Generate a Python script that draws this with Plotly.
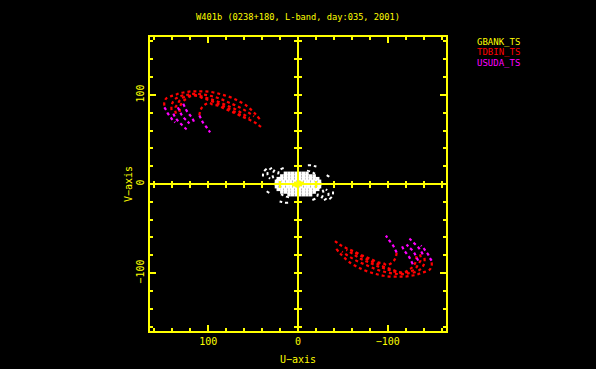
import plotly.graph_objects as go

TITLE = "W401b (0238+180, L-band, day:035, 2001)"
STATIONS = ["GBANK_TS", "TDBIN_TS", "USUDA_TS"]
COLORS = ["#ffff00", "#ff0000", "#ff00ff"]
TICKS = [100, 0, -100]

# TDBIN_TS tracks (u, v) in the upper-left half; conjugates give the lower-right half
tdbin_1 = [(149, 88), (149, 92), (147, 96), (143, 98), (137, 100), (132, 102), (126, 103), (119, 104),
           (113, 104), (104, 104), (95, 103), (87, 101), (80, 99), (72, 96), (66, 93), (59, 89), (53, 84),
           (47, 78), (42, 72)]
tdbin_2 = [(141, 83), (141, 88), (139, 93), (136, 96), (130, 99), (124, 100), (119, 101), (111, 101),
           (103, 100), (94, 98), (85, 95), (76, 91), (67, 87), (58, 82), (49, 76)]
tdbin_3 = [(136, 79), (137, 85), (134, 90), (131, 95), (126, 98), (121, 99), (115, 100), (106, 98),
           (97, 95), (88, 92), (79, 88), (70, 84), (62, 79), (54, 74)]
tdbin_4 = [(132, 81), (131, 88), (128, 93), (124, 96), (119, 99), (113, 99), (105, 96), (96, 93),
           (87, 89), (78, 85), (69, 80), (60, 75)]
tdbin_5 = [(110, 77), (109, 82), (107, 86), (104, 89), (99, 91), (95, 89), (89, 88), (83, 85), (76, 82),
           (69, 79), (63, 76), (56, 73), (50, 70), (45, 67), (40, 63)]

# USUDA_TS tracks
usuda_1 = [(149, 86), (147, 83), (145, 79), (142, 75), (140, 72), (137, 69)]
usuda_2 = [(139, 79), (137, 75), (134, 71), (131, 68), (128, 65), (125, 62), (122, 60)]
usuda_3 = [(134, 86), (132, 82), (130, 78), (128, 75), (125, 72), (121, 68)]
usuda_4 = [(128, 90), (126, 86), (124, 82), (121, 78), (118, 74), (116, 70)]
usuda_5 = [(110, 77), (108, 73), (106, 69), (103, 65), (100, 61), (98, 58)]

# GBANK_TS (near the origin)
gbank = [(3, 1), (-2, 2), (5, -1), (1, 0)]

# ground baselines (white), half plane
ground_arc_1 = [(35, 17), (38, 14), (39, 11), (39, 8)]
ground_arc_2 = [(29, 18), (32, 16), (34, 12), (33, 8), (31, 6)]
ground_arc_3 = [(26, 16), (28, 12), (28, 8), (25, 5), (21, 3)]
ground_arc_4 = [(16, 18), (20, 16), (22, 12), (21, 8), (18, 6)]
ground_arc_5 = [(-11, 21), (-15, 21), (-19, 20), (-23, 19)]
ground_arc_6 = [(-10, 15), (-14, 14), (-18, 12), (-22, 10)]
ground_arc_7 = [(-32, 10), (-35, 8), (-37, 6)]
ground_core = [(14, 12), (10, 12), (6, 12), (2, 12), (-2, 12), (-6, 12), (-10, 12),
               (18, 9), (14, 9), (10, 9), (6, 9), (2, 9), (-2, 9), (-6, 9), (-10, 9), (-14, 9), (-18, 9),
               (22, 6), (18, 6), (14, 6), (10, 6), (6, 6), (2, 6), (-2, 6), (-6, 6), (-10, 6), (-14, 6), (-18, 6), (-22, 6),
               (24, 3), (20, 3), (16, 3), (12, 3), (8, 3), (4, 3), (0, 3), (-4, 3), (-8, 3), (-12, 3), (-16, 3), (-20, 3), (-24, 3),
               (24, 0), (20, 0), (16, 0), (12, 0), (8, 0), (4, 0), (0, 0)]


def with_conjugates(arcs):
    xs, ys = [], []
    for sign in (1, -1):
        for arc in arcs:
            xs += [sign * p[0] for p in arc] + [None]
            ys += [sign * p[1] for p in arc] + [None]
    return xs, ys


fig = go.Figure()

gx, gy = with_conjugates([ground_arc_1, ground_arc_2, ground_arc_3, ground_arc_4,
                          ground_arc_5, ground_arc_6, ground_arc_7])
fig.add_trace(go.Scatter(x=gx, y=gy, mode="lines", line=dict(color="white", width=2, dash="dot", shape="spline"),
                         showlegend=False, hoverinfo="skip"))
cx, cy = with_conjugates([ground_core])
fig.add_trace(go.Scatter(x=cx, y=cy, mode="markers", marker=dict(color="white", size=3.5, symbol="square"),
                         showlegend=False, hoverinfo="skip"))

rx, ry = with_conjugates([tdbin_1, tdbin_2, tdbin_3, tdbin_4, tdbin_5])
fig.add_trace(go.Scatter(x=rx, y=ry, mode="lines", name=STATIONS[1],
                         line=dict(color=COLORS[1], width=2.2, dash="dot", shape="spline"), showlegend=False))
mx, my = with_conjugates([usuda_1, usuda_2, usuda_3, usuda_4, usuda_5])
fig.add_trace(go.Scatter(x=mx, y=my, mode="lines", name=STATIONS[2],
                         line=dict(color=COLORS[2], width=2.2, dash="dot", shape="spline"), showlegend=False))
yx, yy = with_conjugates([gbank])
fig.add_trace(go.Scatter(x=yx, y=yy, mode="markers", name=STATIONS[0],
                         marker=dict(color=COLORS[0], size=3, symbol="square"), showlegend=False))

YEL = "#ffff00"
FONT = "DejaVu Sans Mono"
RANGE = [165, -165]
YRANGE = [-165, 165]
TICKTEXT = [str(t).replace("-", "\u2212") for t in TICKS]

common = dict(showgrid=False, zeroline=False, linecolor=YEL, linewidth=2, tickcolor=YEL, tickwidth=1.5)
minor_in = dict(dtick=20, ticks="inside", ticklen=3, tickcolor=YEL, tickwidth=1.5)
minor_out = dict(dtick=20, ticks="outside", ticklen=3, tickcolor=YEL, tickwidth=1.5)
fig.update_layout(
    width=596, height=369,
    margin=dict(l=150, r=150, t=37, b=38),
    paper_bgcolor="black", plot_bgcolor="black",
    font=dict(family=FONT, size=10, color=YEL),
    title=dict(text=TITLE, x=0.5, xanchor="center", y=1 - 17 / 369, yanchor="middle",
               font=dict(family=FONT, size=8.7, color=YEL)),
    xaxis=dict(range=RANGE, showline=True, mirror="ticks", ticks="inside", ticklen=6,
               tickvals=TICKS, ticktext=TICKTEXT, minor=minor_in,
               tickfont=dict(family=FONT, size=10, color=YEL), **common),
    yaxis=dict(range=YRANGE, showline=True, mirror="ticks", ticks="inside", ticklen=6,
               tickvals=TICKS, ticktext=TICKTEXT, tickangle=-90, minor=minor_in,
               tickfont=dict(family=FONT, size=10, color=YEL), **common),
    xaxis2=dict(range=RANGE, overlaying="x", anchor="free", position=0.5, showline=True, ticks="outside",
                ticklen=3, tickvals=TICKS, showticklabels=False, minor=minor_out, **common),
    xaxis3=dict(range=RANGE, overlaying="x", anchor="free", position=0.5, showline=False, ticks="inside",
                ticklen=3, tickvals=TICKS, showticklabels=False, minor=minor_in, **common),
    yaxis2=dict(range=YRANGE, overlaying="y", anchor="free", position=0.5, showline=True, ticks="outside",
                ticklen=3, tickvals=TICKS, showticklabels=False, minor=minor_out, **common),
    yaxis3=dict(range=YRANGE, overlaying="y", anchor="free", position=0.5, showline=False, ticks="inside",
                ticklen=3, tickvals=TICKS, showticklabels=False, minor=minor_in, **common),
)
# dummy traces so the overlay axes are drawn
for xa, ya in (("x2", "y2"), ("x3", "y3")):
    fig.add_trace(go.Scatter(x=[None], y=[None], xaxis=xa, yaxis=ya, showlegend=False, hoverinfo="skip"))

fig.add_annotation(text="U\u2212axis", xref="paper", yref="paper", x=0.5, y=(331 - 359) / 294,
                   xanchor="center", yanchor="middle", showarrow=False, font=dict(family=FONT, size=10, color=YEL))
fig.add_annotation(text="V\u2212axis", xref="paper", yref="paper", x=(128 - 150) / 296, y=0.5, textangle=-90,
                   xanchor="center", yanchor="middle", showarrow=False, font=dict(family=FONT, size=10, color=YEL))
for i, (name, col) in enumerate(zip(STATIONS, COLORS)):
    fig.add_annotation(text=name, xref="paper", yref="paper", x=(475 - 150) / 296,
                       y=(331 - (41.7 + 10.5 * i)) / 294, xanchor="left", yanchor="middle",
                       showarrow=False, font=dict(family=FONT, size=9, color=col))

fig.write_html("out.html", config={"displayModeBar": False},
               post_script="document.body.style.margin='0';")
